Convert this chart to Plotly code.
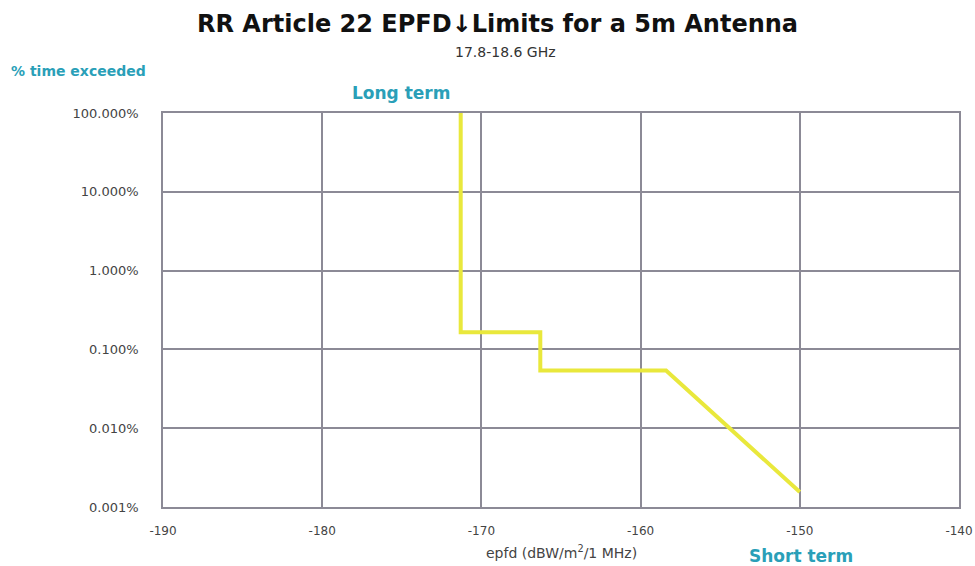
import plotly.graph_objects as go

# Data
epfd = [-171.3, -171.3, -166.3, -166.3, -158.4, -150.0]
pct_time = [100.0, 0.165, 0.165, 0.054, 0.054, 0.00155]

x_ticks = [-190, -180, -170, -160, -150, -140]
x_tick_labels = ["-190", "-180", "-170", "-160", "-150", "-140"]
y_ticks = [0.001, 0.01, 0.1, 1, 10, 100]
y_tick_labels = ["0.001%", "0.010%", "0.100%", "1.000%", "10.000%", "100.000%"]

teal = "#2a9fb8"
grid = "#8c8a96"
font_family = "'DejaVu Sans', sans-serif"

W, H = 975, 566
L, T, R, B = 163, 113, 16, 59
PW, PH = W - L - R, H - T - B


def py(page_y):
    return (H - B - page_y) / PH


def px(page_x):
    return (page_x - L) / PW


fig = go.Figure()
fig.add_trace(go.Scatter(
    x=epfd, y=pct_time, mode="lines",
    line=dict(color="#e9e83c", width=4),
    showlegend=False, hoverinfo="x+y",
))

fig.update_layout(
    width=W, height=H,
    margin=dict(l=L, r=R, t=T, b=B, autoexpand=False),
    paper_bgcolor="white", plot_bgcolor="white",
    font=dict(family=font_family, color="#444444", size=13),
    xaxis=dict(
        range=[-190, -140], tickvals=x_ticks, ticktext=x_tick_labels,
        showgrid=True, gridcolor=grid, gridwidth=1.5,
        showline=True, linecolor=grid, linewidth=1.5, mirror=True,
        zeroline=False, ticks="", ticklabelstandoff=12, automargin=False,
        tickfont=dict(size=12, color="#444444"),
    ),
    yaxis=dict(
        type="log", range=[-3, 2],
        tickvals=y_ticks, ticktext=y_tick_labels,
        showgrid=True, gridcolor=grid, gridwidth=1.5,
        showline=True, linecolor=grid, linewidth=1.5, mirror=True,
        zeroline=False, ticks="", ticklabelstandoff=20, automargin=False,
        tickfont=dict(size=13, color="#444444"),
    ),
    annotations=[
        dict(text="<b>RR Article 22 EPFD↓Limits for a 5m Antenna</b>",
             xref="paper", yref="paper", x=px(497), xanchor="center",
             y=py(24), yanchor="middle", showarrow=False,
             font=dict(size=24, color="#111111")),
        dict(text="17.8-18.6 GHz", xref="paper", yref="paper",
             x=px(505), xanchor="center", y=py(52), yanchor="middle", showarrow=False,
             font=dict(size=14, color="#333333")),
        dict(text="<b>% time exceeded</b>", xref="paper", yref="paper",
             x=px(9), xanchor="left",
             y=py(71), yanchor="middle", showarrow=False,
             font=dict(size=14, color=teal)),
        dict(text="<b>Long term</b>", xref="paper", yref="paper",
             x=px(401), xanchor="center", y=py(93), yanchor="middle", showarrow=False,
             font=dict(size=17, color=teal)),
        dict(text="<b>Short term</b>", xref="paper", yref="paper",
             x=px(801), xanchor="center", y=py(556), yanchor="middle", showarrow=False,
             font=dict(size=17, color=teal)),
        dict(text="epfd (dBW/m<sup>2</sup>/1 MHz)", xref="paper", yref="paper",
             x=px(561), xanchor="center", y=py(552), yanchor="middle", showarrow=False,
             font=dict(size=14, color="#444444")),
    ],
)

fig.write_html(
    "out.html",
    config={"responsive": False, "displayModeBar": False},
    post_script="document.body.style.margin='0';document.body.style.overflow='hidden';",
)
